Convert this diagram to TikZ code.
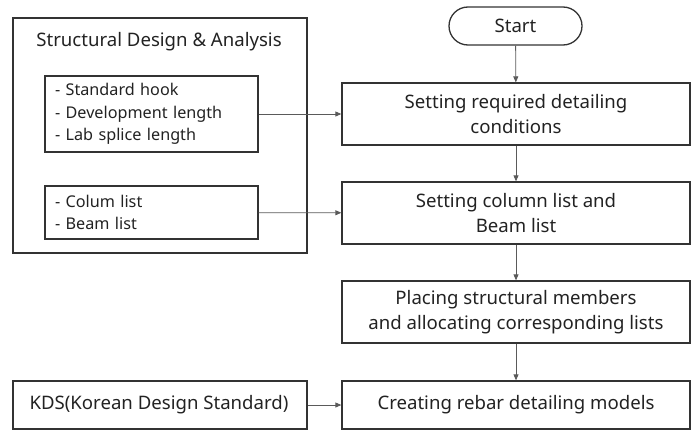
\documentclass[tikz,border=0pt]{standalone}
\usepackage{fontspec}
\setmainfont{Noto Sans}
\usetikzlibrary{arrows.meta}

\definecolor{boxline}{HTML}{333333}
\definecolor{linkline}{HTML}{5A5A5A}
\definecolor{textgray}{HTML}{222222}

\begin{document}
\begin{tikzpicture}
  [
    x=1pt, y=-1pt,
    inner sep=0mm,
    every node/.style={text=textgray},
    bigtext/.style={font=\fontsize{18.6}{25}\selectfont},
    stepbox/.style={rectangle,draw=boxline,line width=1.3pt,minimum width=348pt,minimum height=62pt,
      align=center,bigtext},
    terminal/.style={rectangle,rounded corners=19pt,draw=boxline,line width=1.3pt,minimum width=133pt,
      minimum height=38pt,bigtext},
    listbox/.style={rectangle,draw=boxline,line width=1.1pt,minimum width=213pt,text width=193pt,
      align=left,font=\fontsize{16.2}{22.5}\selectfont},
    frame/.style={rectangle,draw=boxline,line width=1.3pt,minimum width=294pt,minimum height=235pt},
    link/.style={draw=linkline,line width=0.8pt,-{Triangle[length=6pt,width=5pt]}},
  ]
  \useasboundingbox (0,0) rectangle (692,431);

  % left column
  \node[frame]   (design)      at (160,135.5) {};
  \node[bigtext] (design title) at (159,42) {Structural Design \& Analysis};
  \node[listbox,minimum height=76pt] (rules) at (151.5,114)
    {- Standard hook\\- Development length\\- Lab splice length};
  \node[listbox,minimum height=53pt] (lists) at (151.5,212.5)
    {- Colum list\\- Beam list};
  \node[frame,minimum height=48pt] (kds) at (160,405) {};
  \node[bigtext] (kds text) at (159,405) {KDS(Korean Design Standard)};

  % right column
  \node[terminal] (start)      at (515.5,26) {Start};
  \node[stepbox]  (conditions) at (516,114)  {Setting required detailing\\conditions};
  \node[stepbox]  (setlists)   at (516,213)  {Setting column list and\\Beam list};
  \node[stepbox]  (placing)    at (516,312)  {Placing structural members\\and allocating corresponding lists};
  \node[stepbox,minimum height=48pt] (models) at (516,405) {Creating rebar detailing models};

  \draw[link] (start) -- (conditions);
  \draw[link] (conditions) -- (setlists);
  \draw[link] (setlists) -- (placing);
  \draw[link] (placing) -- (models);
  \draw[link] (rules) -- (conditions);
  \draw[link] (lists) -- (setlists);
  \draw[link] (kds) -- (models);
\end{tikzpicture}
\end{document}
